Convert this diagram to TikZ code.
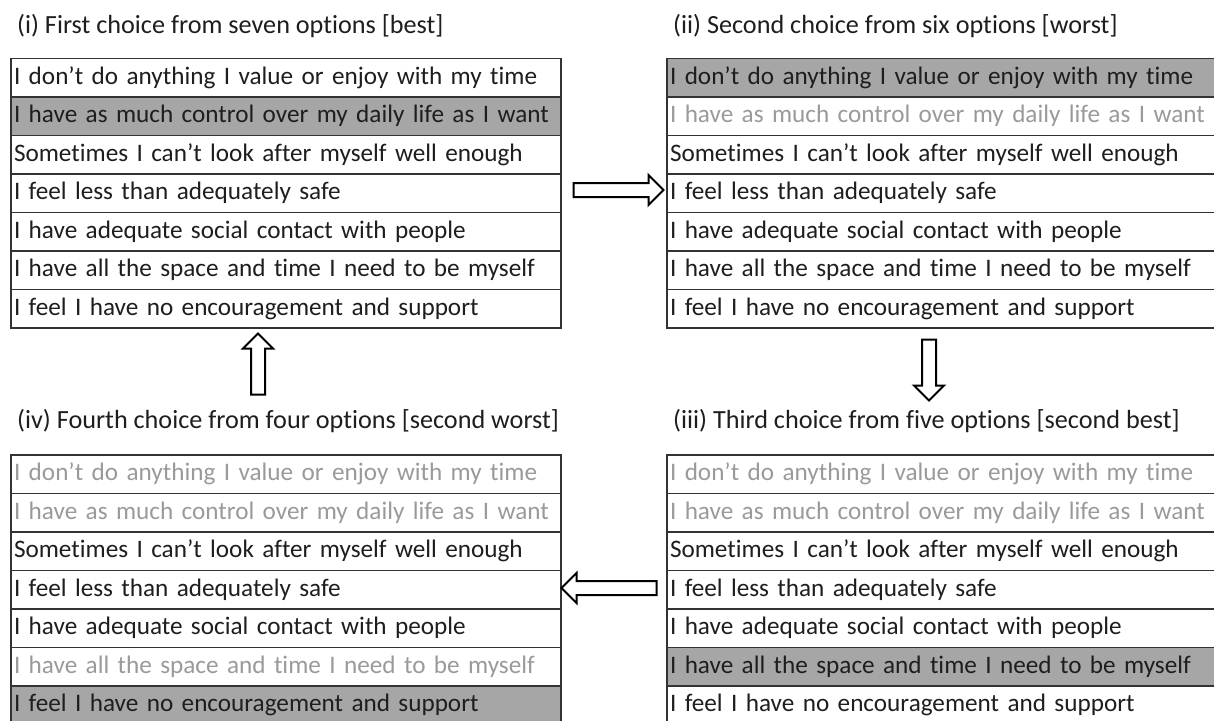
\documentclass[tikz,border=0pt]{standalone}
\usepackage{fontspec}
\setmainfont[Ligatures=NoCommon]{Carlito}
\usetikzlibrary{positioning,shapes.arrows}
\definecolor{cellgray}{HTML}{A6A6A6}
\definecolor{fadetext}{HTML}{9A9A9A}
\definecolor{inktext}{HTML}{1E1E1E}
\tikzset{
  row/.style = {draw=black!80, line width=1.4pt, text=inktext,
                minimum height=38.5pt, text width=544pt, inner xsep=3pt,
                inner ysep=0pt, outer sep=0pt, align=left,
                font=\fontsize{25.2}{29}\selectfont},
  pick/.style = {fill=cellgray},
  faded/.style = {text=fadetext},
  heading/.style = {anchor=base west, inner sep=0pt, text=inktext,
                    font=\fontsize{26.2}{30}\selectfont},
  fat/.style = {single arrow, draw=black, line width=2pt, fill=white,
                inner xsep=0pt, inner ysep=6pt, minimum height=#1,
                single arrow head extend=8pt, single arrow head indent=0pt,
                single arrow tip angle=90},
  fat/.default = 90pt
}

\begin{document}
\begin{tikzpicture}[x=1pt, y=-1pt]
	\useasboundingbox (0,0) rectangle (1214,720);
	\clip (0,0) rectangle (1214,720);
	\fill[white] (0,0) rectangle (1214,720);

	% Headings
	\node[heading] (ti)   at (17,33)   {(i) First choice from seven options [best]};
	\node[heading] (tii)  at (673,33)  {(ii) Second choice from six options [worst]};
	\node[heading] (tiii) at (673,428) {(iii) Third choice from five options [second best]};
	\node[heading] (tiv)  at (17,428)  {(iv) Fourth choice from four options [second worst]};

	% (i) seven options
	\node[row, anchor=north west] (A1) at (11,58.5) {I don’t do anything I value or enjoy with my time};
	\node[row, pick, below=0pt of A1] (A2) {I have as much control over my daily life as I want};
	\node[row, below=0pt of A2] (A3) {Sometimes I can’t look after myself well enough};
	\node[row, below=0pt of A3] (A4) {I feel less than adequately safe};
	\node[row, below=0pt of A4] (A5) {I have adequate social contact with people};
	\node[row, below=0pt of A5] (A6) {I have all the space and time I need to be myself};
	\node[row, below=0pt of A6] (A7) {I feel I have no encouragement and support};

	% (ii) six options
	\node[row, pick, anchor=north west] (B1) at (667,58.5) {I don’t do anything I value or enjoy with my time};
	\node[row, faded, below=0pt of B1] (B2) {I have as much control over my daily life as I want};
	\node[row, below=0pt of B2] (B3) {Sometimes I can’t look after myself well enough};
	\node[row, below=0pt of B3] (B4) {I feel less than adequately safe};
	\node[row, below=0pt of B4] (B5) {I have adequate social contact with people};
	\node[row, below=0pt of B5] (B6) {I have all the space and time I need to be myself};
	\node[row, below=0pt of B6] (B7) {I feel I have no encouragement and support};

	% (iii) five options
	\node[row, faded, anchor=north west] (C1) at (667,455) {I don’t do anything I value or enjoy with my time};
	\node[row, faded, below=0pt of C1] (C2) {I have as much control over my daily life as I want};
	\node[row, below=0pt of C2] (C3) {Sometimes I can’t look after myself well enough};
	\node[row, below=0pt of C3] (C4) {I feel less than adequately safe};
	\node[row, below=0pt of C4] (C5) {I have adequate social contact with people};
	\node[row, pick, below=0pt of C5] (C6) {I have all the space and time I need to be myself};
	\node[row, below=0pt of C6] (C7) {I feel I have no encouragement and support};

	% (iv) four options
	\node[row, faded, anchor=north west] (D1) at (11,455) {I don’t do anything I value or enjoy with my time};
	\node[row, faded, below=0pt of D1] (D2) {I have as much control over my daily life as I want};
	\node[row, below=0pt of D2] (D3) {Sometimes I can’t look after myself well enough};
	\node[row, below=0pt of D3] (D4) {I feel less than adequately safe};
	\node[row, below=0pt of D4] (D5) {I have adequate social contact with people};
	\node[row, faded, below=0pt of D5] (D6) {I have all the space and time I need to be myself};
	\node[row, pick, below=0pt of D6] (D7) {I feel I have no encouragement and support};

	% Arrows
	\node[fat=90pt] (iToii) at (615,190) {};
	\node[fat=61pt, rotate=-90] (iiToiii) at (929,366.5) {};
	\node[fat=95pt, rotate=180] (iiiToiv) at (612.5,588) {};
	\node[fat=61pt, rotate=90] (ivToi) at (258,367.5) {};
\end{tikzpicture}
\end{document}
